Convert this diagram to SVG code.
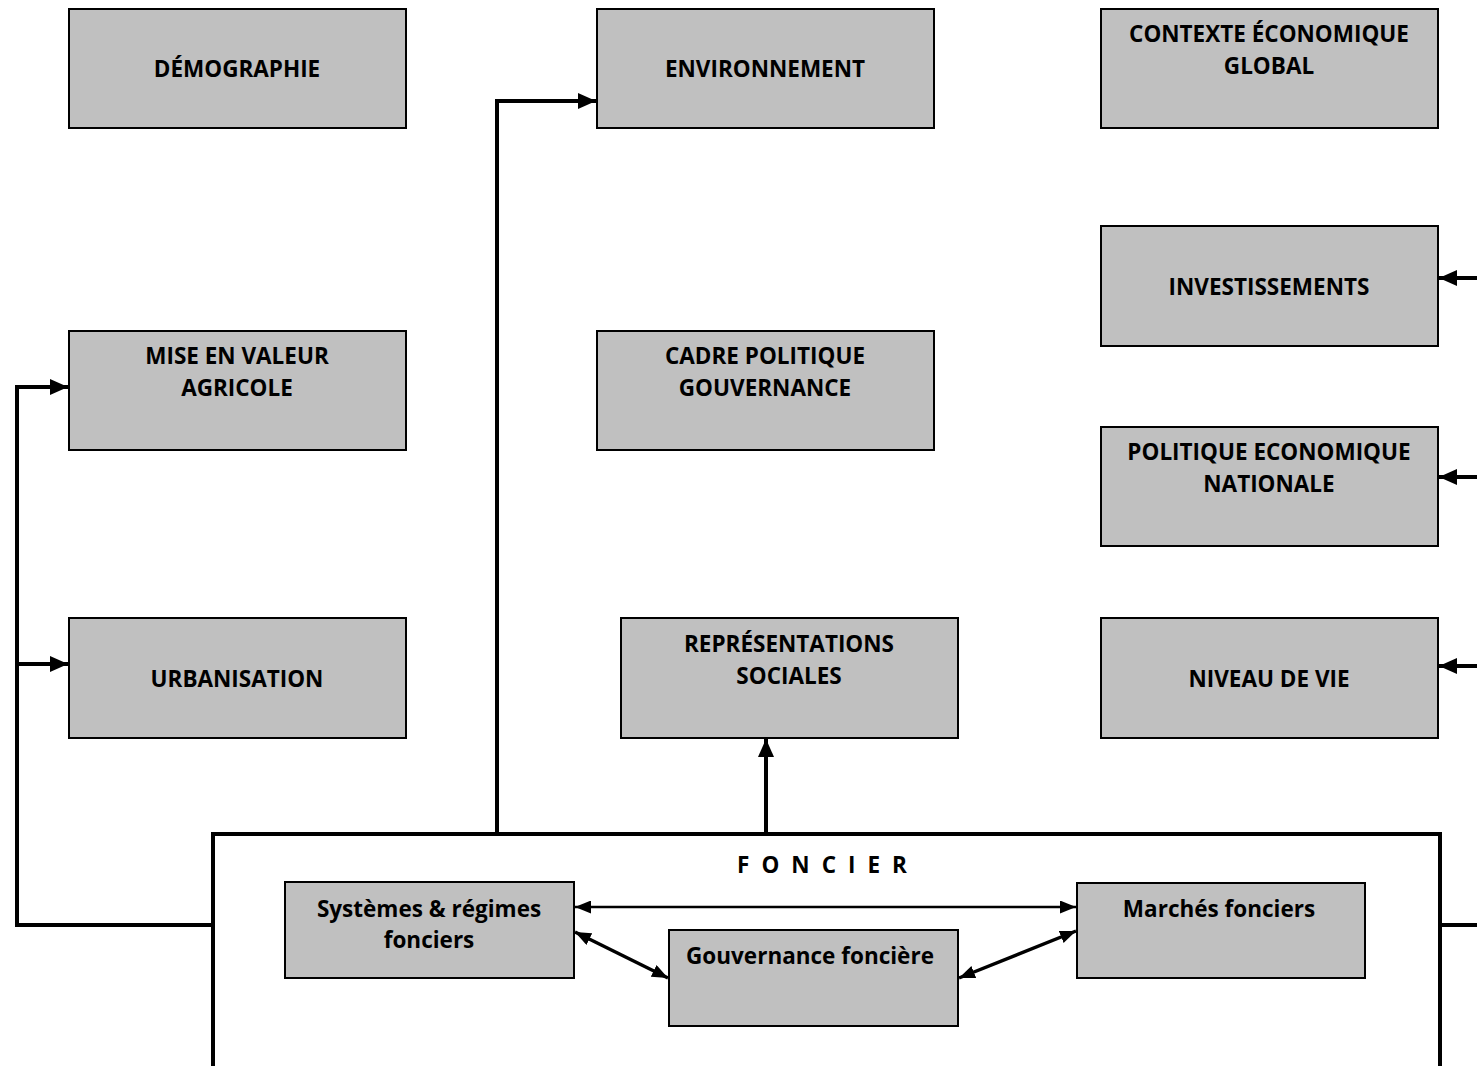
<svg xmlns="http://www.w3.org/2000/svg" width="1477" height="1066" viewBox="0 0 1477 1066">
  <style>
    .box { fill: #C0C0C0; stroke: #000; stroke-width: 2; }
    .frame { fill: #FFFFFF; stroke: #000; stroke-width: 4; }
    .lbl { font-family: "Open Sans", "Liberation Sans", sans-serif; font-weight: bold; font-size: 22.5px; fill: #000; text-anchor: middle; }
    .thick { fill: none; stroke: #000; stroke-width: 4; }
    .thin { fill: none; stroke: #000; stroke-width: 2.5; }
    .diag { fill: none; stroke: #000; stroke-width: 3.5; }
  </style>
  <defs>
    <marker id="head" viewBox="0 0 10 10" refX="10" refY="5" markerWidth="18" markerHeight="16" markerUnits="userSpaceOnUse" orient="auto-start-reverse" preserveAspectRatio="none">
      <path d="M0,0 L10,5 L0,10 z" fill="#000"/>
    </marker>
    <marker id="head-s" viewBox="0 0 10 10" refX="10" refY="5" markerWidth="16" markerHeight="13" markerUnits="userSpaceOnUse" orient="auto-start-reverse" preserveAspectRatio="none">
      <path d="M0,0 L10,5 L0,10 z" fill="#000"/>
    </marker>
  </defs>

  <rect width="1477" height="1066" fill="#FFFFFF"/>

  <!-- Land-tenure frame, drawn first so connectors sit on top -->
  <g id="foncier">
    <rect class="frame" x="213" y="834" width="1227" height="236"/>
    <text class="lbl" x="828" y="873" letter-spacing="12">FONCIER</text>
  </g>

  <g id="demographie">
    <rect class="box" x="69" y="9" width="337" height="119"/>
    <text class="lbl" x="237" y="77">DÉMOGRAPHIE</text>
  </g>
  <g id="environnement">
    <rect class="box" x="597" y="9" width="337" height="119"/>
    <text class="lbl" x="765" y="77">ENVIRONNEMENT</text>
  </g>
  <g id="contexte">
    <rect class="box" x="1101" y="9" width="337" height="119"/>
    <text class="lbl" x="1269" y="42">CONTEXTE ÉCONOMIQUE</text>
    <text class="lbl" x="1269" y="74">GLOBAL</text>
  </g>
  <g id="investissements">
    <rect class="box" x="1101" y="226" width="337" height="120"/>
    <text class="lbl" x="1269" y="295">INVESTISSEMENTS</text>
  </g>
  <g id="mise-en-valeur">
    <rect class="box" x="69" y="331" width="337" height="119"/>
    <text class="lbl" x="237" y="364">MISE EN VALEUR</text>
    <text class="lbl" x="237" y="396">AGRICOLE</text>
  </g>
  <g id="cadre-politique">
    <rect class="box" x="597" y="331" width="337" height="119"/>
    <text class="lbl" x="765" y="364">CADRE POLITIQUE</text>
    <text class="lbl" x="765" y="396">GOUVERNANCE</text>
  </g>
  <g id="politique-economique">
    <rect class="box" x="1101" y="427" width="337" height="119"/>
    <text class="lbl" x="1269" y="460">POLITIQUE ECONOMIQUE</text>
    <text class="lbl" x="1269" y="492">NATIONALE</text>
  </g>
  <g id="urbanisation">
    <rect class="box" x="69" y="618" width="337" height="120"/>
    <text class="lbl" x="237" y="687">URBANISATION</text>
  </g>
  <g id="representations">
    <rect class="box" x="621" y="618" width="337" height="120"/>
    <text class="lbl" x="789" y="652">REPRÉSENTATIONS</text>
    <text class="lbl" x="789" y="684">SOCIALES</text>
  </g>
  <g id="niveau-de-vie">
    <rect class="box" x="1101" y="618" width="337" height="120"/>
    <text class="lbl" x="1269" y="687">NIVEAU DE VIE</text>
  </g>

  <g id="systemes">
    <rect class="box" x="285" y="882" width="289" height="96"/>
    <text class="lbl" x="429" y="917">Systèmes &amp; régimes</text>
    <text class="lbl" x="429" y="948">fonciers</text>
  </g>
  <g id="gouvernance">
    <rect class="box" x="669" y="930" width="289" height="96"/>
    <text class="lbl" x="810" y="964">Gouvernance foncière</text>
  </g>
  <g id="marches">
    <rect class="box" x="1077" y="883" width="288" height="95"/>
    <text class="lbl" x="1219" y="917">Marchés fonciers</text>
  </g>

  <g id="connectors">
    <!-- left trunk to agriculture and urbanisation -->
    <polyline class="thick" points="213,925 17,925 17,387 68,387" marker-end="url(#head)"/>
    <line class="thick" x1="17" y1="664" x2="68" y2="664" marker-end="url(#head)"/>
    <!-- up to environnement -->
    <polyline class="thick" points="497,834 497,101 596,101" marker-end="url(#head)"/>
    <!-- up to représentations sociales -->
    <line class="thick" x1="766" y1="834" x2="766" y2="739" marker-end="url(#head)"/>
    <!-- right side inputs, entering from beyond the edge -->
    <line class="thick" x1="1480" y1="278" x2="1439" y2="278" marker-end="url(#head)"/>
    <line class="thick" x1="1480" y1="477" x2="1439" y2="477" marker-end="url(#head)"/>
    <line class="thick" x1="1480" y1="666" x2="1439" y2="666" marker-end="url(#head)"/>
    <line class="thick" x1="1440" y1="925" x2="1480" y2="925"/>
    <!-- links inside the frame -->
    <line class="thin" x1="575" y1="907" x2="1076" y2="907" marker-start="url(#head-s)" marker-end="url(#head-s)"/>
    <line class="diag" x1="575" y1="932" x2="668" y2="978" marker-start="url(#head-s)" marker-end="url(#head-s)"/>
    <line class="diag" x1="959" y1="978" x2="1076" y2="931" marker-start="url(#head-s)" marker-end="url(#head-s)"/>
  </g>
</svg>
